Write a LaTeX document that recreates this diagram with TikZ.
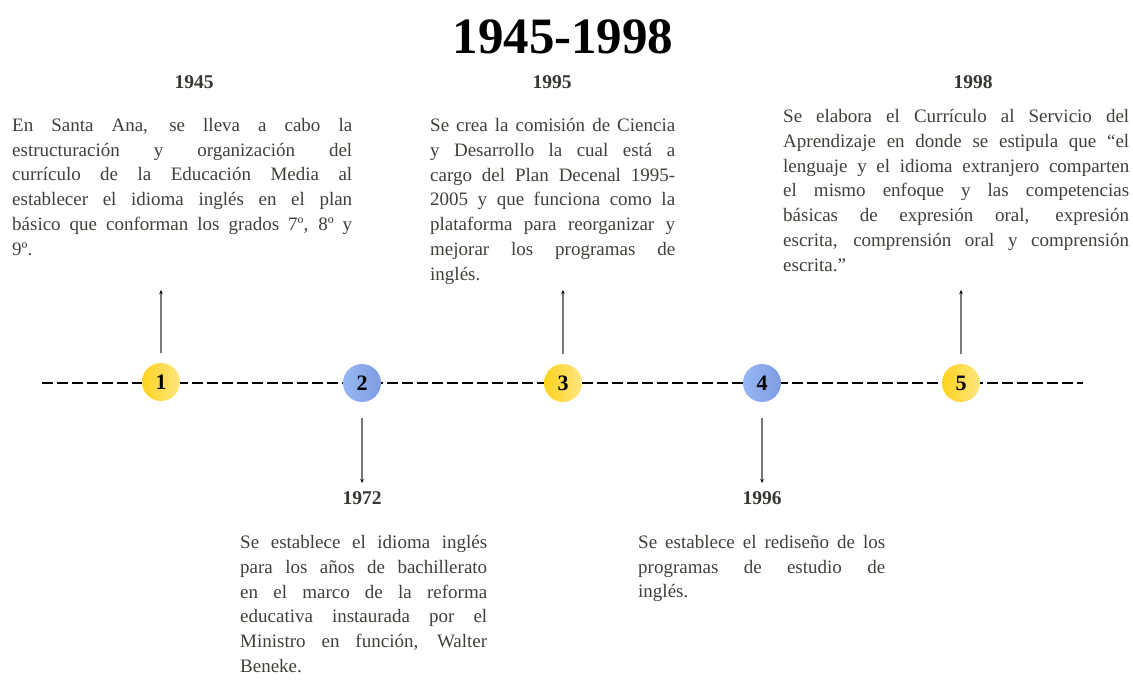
\documentclass[tikz,border=0pt]{standalone}
\usepackage{fontspec}
\setmainfont{Liberation Serif}
\usetikzlibrary{arrows.meta}
\definecolor{txt}{RGB}{60,66,56}
\definecolor{yelL}{RGB}{255,210,30}
\definecolor{yelR}{RGB}{255,230,130}
\definecolor{bluL}{RGB}{150,183,245}
\definecolor{bluR}{RGB}{126,156,224}
\definecolor{stem}{RGB}{120,120,120}
\newcommand{\bodysetup}{\fontsize{19}{24.8}\selectfont\hyphenpenalty=10000\relax\tolerance=10000\relax}
\tikzset{
  body/.style={anchor=north west, inner sep=0pt, align=justify, text=txt, font=\bodysetup},
  year/.style={inner sep=0pt, text=txt!85!black, font=\fontsize{19.5}{22}\selectfont\bfseries},
  ybub/.style={circle, minimum size=38pt, inner sep=0pt, left color=yelL, right color=yelR,
    font=\fontsize{22}{24}\selectfont\bfseries},
  bbub/.style={circle, minimum size=38pt, inner sep=0pt, left color=bluL, right color=bluR,
    font=\fontsize{22}{24}\selectfont\bfseries},
  stemarrow/.style={draw=stem, line width=1.2pt, -{Stealth[length=4pt,width=3.5pt,black]}},
  axis/.style={draw=black, line width=1.8pt, dash pattern=on 11pt off 4pt}
}
\begin{document}
\begin{tikzpicture}[x=1pt,y=-1pt]
\useasboundingbox (0,0) rectangle (1133,681);
\node[inner sep=0pt, font=\fontsize{51}{56}\selectfont\bfseries] (title) at (563,37) {1945-1998};
% axis
\coordinate (L) at (42,383);
\coordinate (R) at (1083,383);
\draw[axis] (L) -- (R);
\node[ybub] (c1) at (161,382) {1};
\node[bbub] (c2) at (362,383) {2};
\node[ybub] (c3) at (563,383) {3};
\node[bbub] (c4) at (762,383) {4};
\node[ybub] (c5) at (961,383) {5};
% arrow ends
\coordinate (t1) at (161,290);
\coordinate (t3) at (563,290);
\coordinate (t5) at (961,290);
\coordinate (t2) at (362,483);
\coordinate (t4) at (762,483);
\draw[stemarrow] ([yshift=10pt]c1.north) -- (t1);
\draw[stemarrow] ([yshift=10pt]c3.north) -- (t3);
\draw[stemarrow] ([yshift=10pt]c5.north) -- (t5);
\draw[stemarrow] ([yshift=-16pt]c2.south) -- (t2);
\draw[stemarrow] ([yshift=-16pt]c4.south) -- (t4);
% years
\node[year] (y1) at (194,82) {1945};
\node[year] (y3) at (552,82) {1995};
\node[year] (y5) at (973,82) {1998};
\node[year] (y2) at (362,498) {1972};
\node[year] (y4) at (762,498) {1996};
% texts
\node[body, text width=340pt] (b1) at (12,118) {En Santa Ana, se lleva a cabo la\linebreak estructuración y organización del\linebreak currículo de la Educación Media al\linebreak establecer el idioma inglés en el plan\linebreak básico que conforman los grados 7º, 8º y\linebreak 9º.};
\node[body, text width=245pt] (b3) at (430,118) {Se crea la comisión de Ciencia\linebreak y Desarrollo la cual está a\linebreak cargo del Plan Decenal 1995-\linebreak 2005 y que funciona como la\linebreak plataforma para reorganizar y\linebreak mejorar los programas de\linebreak inglés.};
\node[body, text width=346pt] (b5) at (783,109) {Se elabora el Currículo al Servicio del\linebreak Aprendizaje en donde se estipula que “el\linebreak lenguaje y el idioma extranjero comparten\linebreak el mismo enfoque y las competencias\linebreak básicas de expresión oral, expresión\linebreak escrita, comprensión oral y comprensión\linebreak escrita.”};
\node[body, text width=247pt] (b2) at (240,535) {Se establece el idioma inglés\linebreak para los años de bachillerato\linebreak en el marco de la reforma\linebreak educativa instaurada por el\linebreak Ministro en función, Walter\linebreak Beneke.};
\node[body, text width=247pt] (b4) at (638,535) {Se establece el rediseño de los\linebreak programas de estudio de\linebreak inglés.};
\end{tikzpicture}
\end{document}
